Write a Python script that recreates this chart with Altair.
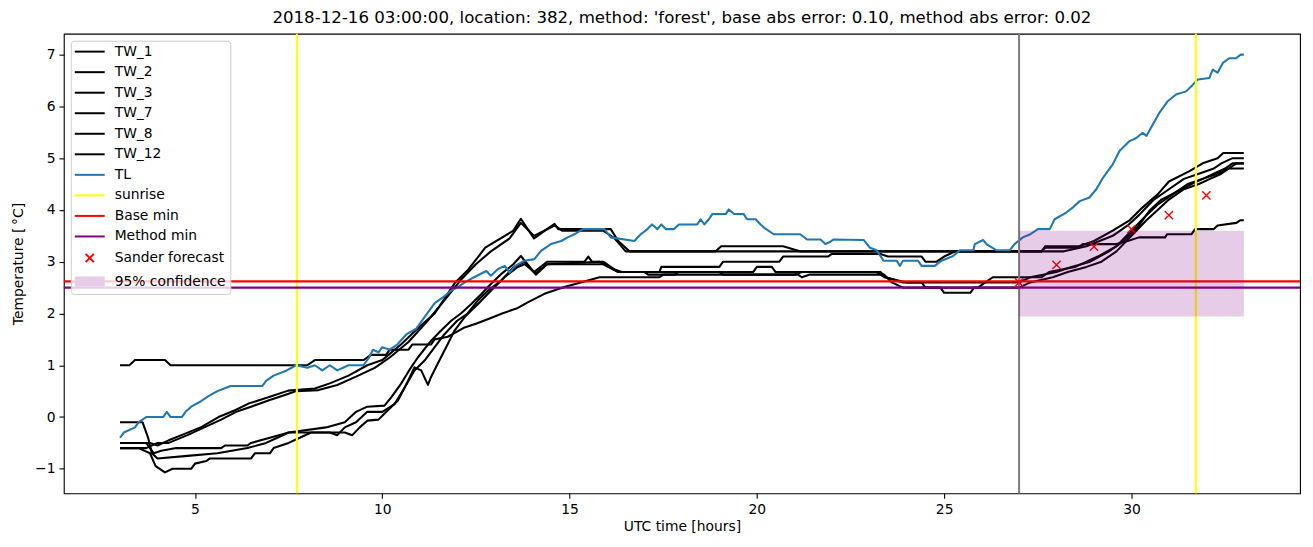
import altair as alt
import pandas as pd

# ---------------- data ----------------
TW_1 = [(3.0,1.0),(3.25,1.0),(3.4,1.1),(4.2,1.1),(4.35,1.0),(8.0,1.0),(8.2,1.1),(9.5,1.1),(9.7,1.2),
        (10.1,1.2),(10.2,1.3),(10.7,1.3),(10.8,1.4),(11.3,1.4),(11.4,1.5),(11.75,1.55),(12.2,1.73),(12.5,1.8),
        (12.85,1.9),(13.2,2.0),(13.6,2.1),(13.87,2.21),(14.33,2.38),(14.86,2.51),(15.3,2.6),(15.8,2.7),
        (17.4,2.7),(17.5,2.75),(21.0,2.75),(21.2,2.8),(23.2,2.8),(23.4,2.7),(24.0,2.6),(24.4,2.6),(24.5,2.5),
        (25.9,2.5),(26.1,2.6),(27.0,2.6),(27.3,2.7),(28.0,2.8),(28.4,2.9),(28.9,3.0),(29.4,3.2),(29.8,3.4),
        (30.2,3.7),(30.5,4.0),(30.8,4.2),(31.2,4.35),(31.6,4.5),(31.9,4.6),(32.3,4.7),(32.6,4.8),(33.0,4.8)]

TW_2 = [(3.0,-0.5),(3.8,-0.5),(4.0,-0.55),(4.3,-0.45),(4.74,-0.32),(5.18,-0.19),(5.63,0.0),(6.07,0.13),
        (6.43,0.26),(6.96,0.38),(7.49,0.51),(8.2,0.55),(8.6,0.65),(9.1,0.8),(9.6,1.0),(10.0,1.1),(10.5,1.4),
        (11.0,1.75),(11.4,2.0),(11.95,2.6),(12.3,2.85),(12.75,3.27),(13.5,3.6),(13.7,3.83),(14.05,3.45),
        (14.6,3.73),(14.7,3.63),(16.1,3.63),(16.3,3.4),(16.6,3.2),(27.6,3.2),(27.7,3.27),(28.6,3.27),
        (28.7,3.34),(29.6,3.34),(29.9,3.4),(30.2,3.47),(30.9,3.47),(30.95,3.53),(31.6,3.53),(31.7,3.63),
        (32.2,3.63),(32.3,3.7),(32.8,3.75),(32.9,3.8),(33.0,3.8)]

TW_3 = [(3.0,-0.6),(3.7,-0.6),(4.0,-0.5),(4.3,-0.5),(4.8,-0.35),(5.25,-0.2),(5.7,-0.05),(6.1,0.1),(6.5,0.2),
        (7.0,0.33),(7.5,0.45),(7.7,0.5),(8.3,0.52),(8.8,0.62),(9.3,0.78),(9.8,0.95),(10.2,1.15),(10.7,1.45),
        (11.2,1.85),(11.6,2.2),(12.1,2.65),(12.5,2.95),(12.9,3.2),(13.4,3.45),(13.7,3.75),(14.05,3.5),
        (14.6,3.7),(14.8,3.6),(15.9,3.6),(16.2,3.45),(16.5,3.2),(18.9,3.2),(19.05,3.3),(20.7,3.3),(21.15,3.2),
        (27.6,3.2),(27.7,3.3),(28.6,3.3),(29.0,3.4),(29.5,3.6),(29.95,3.8),(30.3,4.05),(30.7,4.3),(31.0,4.55),
        (31.55,4.75),(31.9,4.9),(32.3,5.0),(32.45,5.1),(33.0,5.1)]

TW_7 = [(3.0,-0.1),(3.6,-0.1),(3.75,-0.4),(3.85,-0.7),(4.0,-0.8),(4.8,-0.75),(5.6,-0.7),(6.4,-0.6),(6.9,-0.5),
        (7.2,-0.4),(7.5,-0.3),(8.5,-0.2),(9.0,-0.1),(9.3,0.1),(9.6,0.2),(10.06,0.22),(10.24,0.38),(10.5,0.64),
        (10.77,0.96),(10.95,1.15),(11.3,1.47),(11.57,1.67),(11.84,1.86),(12.1,2.0),(12.37,2.18),(12.64,2.37),
        (12.9,2.57),(13.17,2.76),(13.5,2.95),(13.7,3.11),(14.05,2.8),(14.4,3.0),(15.4,3.0),(15.5,3.1),
        (15.6,3.0),(15.9,3.0),(16.3,2.8),(17.4,2.8),(17.45,2.9),(19.0,2.9),(19.1,3.0),(20.6,3.0),(20.7,3.1),
        (21.9,3.1),(22.0,3.15),(23.3,3.15),(23.5,3.1),(24.4,3.1),(24.5,3.0),(24.8,3.0),(25.0,3.1),(25.3,3.2),
        (28.2,3.2),(28.8,3.3),(29.5,3.5),(29.9,3.7),(30.2,3.9),(30.6,4.2),(31.0,4.4),(31.4,4.6),(31.8,4.7),
        (32.2,4.8),(32.4,4.9),(32.7,5.0),(33.0,5.0)]

TW_8 = [(3.0,-0.5),(3.7,-0.5),(3.9,-0.7),(4.1,-0.65),(4.5,-0.6),(5.7,-0.6),(5.8,-0.55),(6.4,-0.55),(6.5,-0.5),
        (7.0,-0.4),(7.5,-0.3),(8.6,-0.3),(8.8,-0.35),(9.0,-0.2),(9.3,-0.1),(9.6,0.1),(10.0,0.1),(10.33,0.25),
        (10.6,0.57),(10.86,0.9),(11.13,1.09),(11.4,1.35),(11.66,1.6),(12.0,1.86),(12.28,2.0),(12.55,2.25),
        (12.82,2.44),(13.17,2.63),(13.5,2.89),(13.8,3.0),(14.1,2.75),(14.4,2.95),(15.8,3.0),(16.2,2.85),
        (16.4,2.8),(17.0,2.8),(17.1,2.75),(17.8,2.75),(17.9,2.8),(19.9,2.8),(20.0,2.9),(20.4,2.9),(20.5,2.8),
        (23.3,2.8),(23.45,2.7),(23.9,2.6),(26.1,2.6),(26.3,2.7),(27.6,2.7),(27.8,2.8),(28.5,2.9),(29.1,3.1),
        (29.6,3.3),(30.0,3.6),(30.4,3.9),(30.7,4.1),(31.1,4.3),(31.5,4.5),(31.9,4.6),(32.2,4.7),(32.5,4.8),
        (32.7,4.9),(33.0,4.9)]

TW_12 = [(3.0,-0.6),(3.5,-0.6),(3.8,-0.7),(3.95,-0.95),(4.2,-1.07),(4.4,-1.0),(4.9,-1.0),(5.0,-0.9),
         (5.3,-0.85),(5.4,-0.8),(6.5,-0.8),(6.6,-0.7),(7.0,-0.7),(7.1,-0.6),(7.5,-0.5),(7.8,-0.4),(8.1,-0.3),
         (9.0,-0.3),(9.2,-0.35),(9.4,-0.2),(9.6,-0.07),(9.9,-0.05),(10.15,0.13),(10.42,0.32),(10.69,0.7),
         (10.86,0.96),(11.04,0.9),(11.22,0.62),(11.3,0.77),(11.48,1.03),(11.75,1.41),(11.93,1.67),(12.2,1.93),
         (12.55,2.18),(12.9,2.44),(13.26,2.7),(13.6,2.89),(13.8,2.95),(14.1,2.78),(14.4,2.95),(15.9,2.95),
         (16.3,2.8),(19.0,2.8),(19.1,2.75),(21.1,2.75),(21.2,2.7),(21.4,2.75),(23.4,2.75),(23.6,2.6),
         (23.9,2.5),(24.9,2.5),(25.0,2.4),(25.7,2.4),(25.8,2.5),(27.0,2.5),(27.3,2.6),(27.9,2.7),(28.3,2.8),
         (28.8,2.9),(29.2,3.0),(29.6,3.2),(30.0,3.5),(30.4,3.8),(30.7,4.0),(31.0,4.2),(31.4,4.4),(31.8,4.5),
         (32.1,4.6),(32.4,4.7),(32.6,4.8),(32.8,4.9),(33.0,4.9)]

TL = [(3.0,-0.4),(3.1,-0.3),(3.4,-0.2),(3.5,-0.1),(3.7,0.0),(4.15,0.0),(4.25,0.1),(4.35,0.0),(4.65,0.0),
      (4.75,0.1),(4.9,0.2),(5.15,0.3),(5.35,0.4),(5.6,0.5),(5.95,0.6),(6.8,0.6),(6.9,0.7),(7.1,0.8),
      (7.45,0.9),(7.7,1.0),(8.0,0.95),(8.2,1.0),(8.4,0.9),(8.6,1.0),(8.8,0.9),(9.1,1.0),(9.5,1.0),
      (9.65,1.15),(9.75,1.3),(9.9,1.25),(10.0,1.35),(10.2,1.3),(10.4,1.4),(10.65,1.6),(10.9,1.7),(11.1,1.9),
      (11.4,2.2),(11.6,2.3),(11.85,2.45),(12.0,2.5),(12.2,2.6),(12.45,2.7),(12.78,2.82),(12.9,2.73),
      (13.09,2.86),(13.27,2.92),(13.4,2.79),(13.55,2.92),(13.8,3.02),(14.06,3.05),(14.24,3.21),(14.5,3.34),
      (14.78,3.4),(14.95,3.47),(15.13,3.53),(15.35,3.63),(15.93,3.63),(16.1,3.47),(16.73,3.4),(16.9,3.53),
      (17.08,3.63),(17.2,3.72),(17.35,3.63),(17.45,3.72),(17.57,3.63),(17.79,3.63),(17.92,3.72),(18.41,3.72),
      (18.5,3.82),(18.6,3.72),(18.72,3.82),(18.81,3.92),(19.17,3.92),(19.25,4.01),(19.39,3.92),(19.65,3.92),
      (19.74,3.82),(19.97,3.82),(20.1,3.72),(20.19,3.66),(20.45,3.53),(21.16,3.53),(21.34,3.43),(21.7,3.43),
      (21.83,3.34),(21.95,3.38),(22.05,3.43),(22.85,3.42),(23.02,3.27),(23.2,3.22),(23.38,3.02),(23.73,3.02),
      (23.82,2.92),(23.9,3.02),(24.3,3.02),(24.4,2.92),(24.75,2.92),(24.93,3.02),(25.24,3.11),(25.42,3.22),
      (25.78,3.22),(25.82,3.34),(26.04,3.42),(26.13,3.34),(26.4,3.22),(26.75,3.22),(26.88,3.34),(27.1,3.47),
      (27.3,3.53),(27.5,3.63),(27.82,3.63),(27.95,3.82),(28.26,3.95),(28.44,4.05),(28.62,4.17),(28.88,4.24),
      (29.06,4.4),(29.24,4.62),(29.5,4.88),(29.68,5.14),(29.95,5.33),(30.13,5.39),(30.3,5.49),(30.4,5.43),
      (30.57,5.65),(30.75,5.88),(30.97,6.1),(31.19,6.23),(31.46,6.29),(31.64,6.42),(31.77,6.52),(32.08,6.55),
      (32.17,6.71),(32.3,6.65),(32.44,6.84),(32.61,6.93),(32.79,6.93),(32.92,7.0),(33.0,7.0)]

sunrise_t = [7.72, 31.72]
forecast_start_t = [27.0]
base_min = 2.62
method_min = 2.50
sander_t = [27, 28, 29, 30, 31, 32]
sander_v = [2.60, 2.94, 3.29, 3.63, 3.90, 4.28]
conf_t = [27.0, 33.0]
conf_lo = 1.94
conf_hi = 3.60

title_text = "2018-12-16 03:00:00, location: 382, method: 'forest', base abs error: 0.10, method abs error: 0.02"

# ---------------- tables ----------------
tw_names = ["TW_1", "TW_2", "TW_3", "TW_7", "TW_8", "TW_12"]
tw_rows = []
for name, pts in zip(tw_names, [TW_1, TW_2, TW_3, TW_7, TW_8, TW_12]):
    for t, v in pts:
        tw_rows.append({"series": name, "t": t, "v": v})
tw_df = pd.DataFrame(tw_rows)
tl_df = pd.DataFrame([{"series": "TL", "t": t, "v": v} for t, v in TL])
sun_df = pd.DataFrame({"t": sunrise_t, "series": ["sunrise"] * len(sunrise_t)})
gray_df = pd.DataFrame({"t": forecast_start_t})
hl_df = pd.DataFrame({"v": [base_min, method_min], "series": ["Base min", "Method min"]})
sander_df = pd.DataFrame({"t": sander_t, "v": sander_v, "series": ["Sander forecast"] * len(sander_t)})
conf_df = pd.DataFrame({"t0": [conf_t[0]], "t1": [conf_t[1]], "lo": [conf_lo], "hi": [conf_hi]})

legend_domain = tw_names + ["TL", "sunrise", "Base min", "Method min", "Sander forecast", "95% confidence"]
legend_colors = ["black"] * 6 + ["#1f77b4", "yellow", "red", "purple", "red", "#e6cce6"]
LINE = "M-1.39,0H4.61"
CROSS = "M0.78,-0.83L2.44,0.83M2.44,-0.83L0.78,0.83"
BAND = "M-1.39,-0.8H4.61M-1.39,-0.48H4.61M-1.39,-0.16H4.61M-1.39,0.16H4.61M-1.39,0.48H4.61M-1.39,0.8H4.61"
legend_shapes = [LINE] * 10 + [CROSS, BAND]

# ---------------- scales / axes ----------------
FONT = "DejaVu Sans"
xs = alt.Scale(domain=[1.5, 34.5], nice=False, zero=False)
ys = alt.Scale(domain=[-1.4735, 7.4035], nice=False, zero=False)
cs = alt.Scale(domain=legend_domain, range=legend_colors)
ss = alt.Scale(domain=legend_domain, range=legend_shapes)

xaxis = alt.Axis(title="UTC time [hours]", values=[5, 10, 15, 20, 25, 30], format="d", grid=False,
                 domain=False, tickSize=4.86, tickWidth=1.1, tickColor="black", labelPadding=4.0,
                 titlePadding=4)
yaxis = alt.Axis(title="Temperature [\u2009°C]", values=[-1, 0, 1, 2, 3, 4, 5, 6, 7], format="d",
                 grid=False, domain=False, tickSize=4.86, tickWidth=1.1, tickColor="black",
                 labelPadding=4.0, titlePadding=9)

leg = alt.Legend(orient="top-left", offset=7, padding=4, fillColor="rgba(255,255,255,0.8)",
                 strokeColor="#cccccc", cornerRadius=3, labelFont=FONT, labelFontSize=13.9,
                 labelColor="black", labelOffset=26.1, symbolSize=100, symbolStrokeWidth=2,
                 symbolOpacity=1, rowPadding=5.6, labelLimit=400)

X = lambda f: alt.X(f, type="quantitative", scale=xs, axis=xaxis)
Y = lambda f: alt.Y(f, type="quantitative", scale=ys, axis=yaxis)
C_nolegend = alt.Color("series:N", scale=cs, legend=None)

tw_layer = alt.Chart(tw_df).mark_line(strokeWidth=2.08, strokeJoin="round").encode(
    x=X("t"), y=Y("v"), color=C_nolegend, detail="series:N")
tl_layer = alt.Chart(tl_df).mark_line(strokeWidth=2.08, strokeJoin="round").encode(
    x=X("t"), y=Y("v"), color=C_nolegend)
gray_layer = alt.Chart(gray_df).mark_rule(color="gray", strokeWidth=2.08).encode(x=X("t"))
sun_layer = alt.Chart(sun_df).mark_rule(strokeWidth=2.08).encode(x=X("t"), color=C_nolegend)
hl_layer = alt.Chart(hl_df).mark_rule(strokeWidth=2.08).encode(y=Y("v"), color=C_nolegend)
sander_layer = alt.Chart(sander_df).mark_point(
    shape="M-1,-1L1,1M1,-1L-1,1", filled=False, size=69, strokeWidth=1.4, opacity=1).encode(
    x=X("t"), y=Y("v"), color=C_nolegend)
legend_layer = alt.Chart(sander_df).mark_point(filled=False, opacity=0).encode(
    x=X("t"), y=Y("v"),
    color=alt.Color("series:N", scale=cs, legend=leg, title=None),
    shape=alt.Shape("series:N", scale=ss, legend=leg, title=None))
band_layer = alt.Chart(conf_df).mark_rect(color="purple", opacity=0.2).encode(
    x=X("t0"), x2="t1", y=Y("lo"), y2="hi")

chart = alt.layer(
    tw_layer, tl_layer, gray_layer, sun_layer, hl_layer, sander_layer, legend_layer, band_layer
).resolve_legend(
    color="independent", shape="independent"
).properties(
    width=1240, height=461,
    padding={"left": 56, "top": 25, "right": 5, "bottom": 40},
    autosize=alt.AutoSizeParams(type="none"),
    title=alt.TitleParams(title_text, fontSize=16.7, font=FONT, fontWeight="normal", color="black",
                          anchor="middle", frame="group", offset=6),
).configure_view(
    stroke="black", strokeWidth=1.1
).configure_axis(
    labelFont=FONT, titleFont=FONT, labelFontSize=13.9, titleFontSize=13.9,
    titleFontWeight="normal", labelColor="black", titleColor="black"
)

chart.save("out.html", embed_options={"renderer": "svg", "actions": False})
